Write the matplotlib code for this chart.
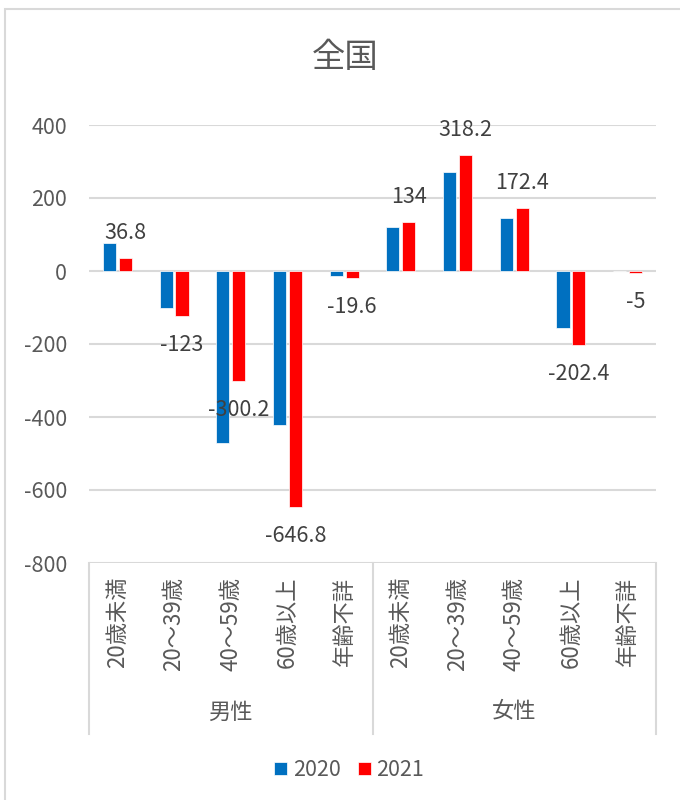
import numpy as np
import matplotlib.pyplot as plt
from matplotlib.patches import Rectangle
from matplotlib.lines import Line2D

plt.rcParams['font.family'] = ['Noto Sans CJK JP', 'DejaVu Sans']
plt.rcParams['axes.unicode_minus'] = False

# =========================
# data
# =========================
age_groups = ["20歳未満", "20～39歳", "40～59歳", "60歳以上", "年齢不詳"]
sexes = ["男性", "女性"]
v2020 = [78, -100, -472, -422, -13, 121, 270, 144, -157, 0]
v2021 = [36.8, -123, -300.2, -646.8, -19.6, 134, 318.2, 172.4, -202.4, -5]
years = ["2020", "2021"]

blue = "#0070C0"
red = "#FF0000"
grey = "#595959"
grid = "#D9D9D9"

W, H = 680, 800
fig = plt.figure(figsize=(W / 100, H / 100), dpi=100)

# plot area in pixels
left, right, top, bottom = 89, 656, 125, 563
ax = fig.add_axes([left / W, 1 - bottom / H, (right - left) / W, (bottom - top) / H])
ax_h = bottom - top

n = len(v2020)
x = np.arange(n)
bw = 0.23
ax.bar(x - 0.14, v2020, bw, color=blue, edgecolor="white", linewidth=0.5, label=years[0], zorder=3)
ax.bar(x + 0.14, v2021, bw, color=red, edgecolor="white", linewidth=0.5, label=years[1], zorder=3)

# data labels on 2021 series
for xi, v in zip(x, v2021):
    off = 18 if v >= 0 else -21
    ax.annotate(f"{v:g}", (xi + 0.14, v), xytext=(0, off), textcoords="offset points",
                ha="center", va="center", fontsize=15.5, color="#404040", zorder=4)

ax.set_xlim(-0.5, n - 0.5)
ax.set_ylim(-800, 400)
ax.set_yticks(np.arange(-800, 401, 200))
ax.yaxis.grid(True, color=grid, linewidth=1.5, zorder=0)
ax.set_axisbelow(True)
ax.tick_params(axis="y", length=0, pad=16, labelsize=15.5, labelcolor=grey)
ax.set_xticks([])
for s in ax.spines.values():
    s.set_visible(False)

# multi-level category axis
tr = ax.get_xaxis_transform()
for i in range(n):
    ax.text(i, -14 / ax_h, age_groups[i % 5], transform=tr, rotation=90,
            ha="center", va="top", fontsize=16, color=grey)
for j, s in enumerate(sexes):
    ax.text(2 + 5 * j, -149 / ax_h, s, transform=tr, ha="center", va="center",
            fontsize=16, color=grey)
for xv in [-0.5, 4.5, 9.5]:
    ax.add_line(Line2D([xv, xv], [0, -171 / ax_h], transform=tr, color=grid,
                       linewidth=1.5, clip_on=False))

# title
fig.text(345 / W, 1 - 58 / H, "全国", ha="center", va="center", fontsize=24, color=grey)

# legend
fig.legend(loc="center", bbox_to_anchor=(349 / W, 1 - 770 / H), ncol=2, frameon=False,
           fontsize=15.5, labelcolor=grey, handlelength=0.6, handleheight=0.6,
           handletextpad=0.25, columnspacing=0.8)

# chart frame
fig.patches.append(Rectangle((5 / W, -0.1), 1.2, 1 - 9 / H + 0.1, transform=fig.transFigure,
                             fill=False, edgecolor=grid, linewidth=1.5))

fig.savefig("out.png", dpi=100, facecolor="white")
